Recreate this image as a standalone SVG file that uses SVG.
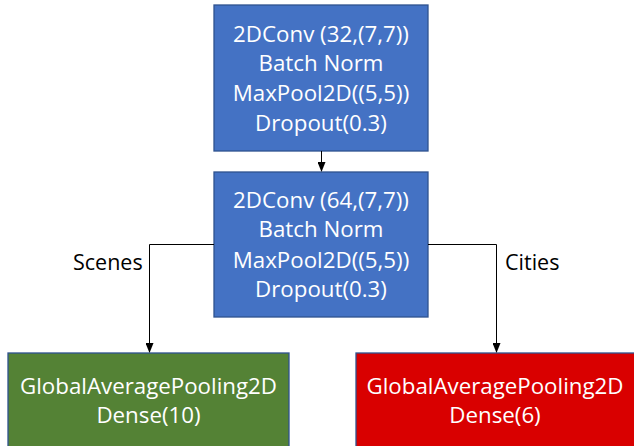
<svg xmlns="http://www.w3.org/2000/svg" width="634" height="446" viewBox="0 0 634 446">
<style>
.box{stroke:#2F528F;stroke-width:1.3}
.t{font-family:"Open Sans","Liberation Sans",sans-serif;font-size:22.3px;fill:#fff;text-anchor:middle}
.l{font-family:"Open Sans","Liberation Sans",sans-serif;font-size:21.5px;fill:#000}
.c{fill:none;stroke:#000;stroke-width:1}
</style>
<defs>
<marker id="a" markerWidth="10" markerHeight="8" refX="9" refY="4" orient="auto" markerUnits="userSpaceOnUse">
<path d="M0,0 L10,4 L0,8 z" fill="#000"/>
</marker>
</defs>
<rect width="634" height="446" fill="#fff"/>
<g id="conv1">
<rect class="box" x="214" y="5" width="214" height="146" fill="#4472C4"/>
<text class="t" x="321" y="42">2DConv (32,(7,7))</text>
<text class="t" x="321" y="71">Batch Norm</text>
<text class="t" x="321" y="101">MaxPool2D((5,5))</text>
<text class="t" x="321" y="131">Dropout(0.3)</text>
</g>
<g id="conv2">
<rect class="box" x="214" y="172" width="214" height="145" fill="#4472C4"/>
<text class="t" x="321" y="208">2DConv (64,(7,7))</text>
<text class="t" x="321" y="237">Batch Norm</text>
<text class="t" x="321" y="268">MaxPool2D((5,5))</text>
<text class="t" x="321" y="297">Dropout(0.3)</text>
</g>
<g id="scenes">
<rect class="box" x="8" y="353" width="281" height="100" fill="#548235"/>
<text class="t" x="148.5" y="394">GlobalAveragePooling2D</text>
<text class="t" x="148.5" y="423">Dense(10)</text>
</g>
<g id="cities">
<rect class="box" x="356" y="353" width="284" height="100" fill="#D90000"/>
<text class="t" x="495" y="394">GlobalAveragePooling2D</text>
<text class="t" x="495" y="423">Dense(6)</text>
</g>
<g id="connectors">
<path class="c" d="M321.5,151 V171" marker-end="url(#a)"/>
<path class="c" d="M214,244.5 H149.5 V352" marker-end="url(#a)"/>
<path class="c" d="M428,244.5 H496.5 V352" marker-end="url(#a)"/>
<text class="l" x="73" y="270">Scenes</text>
<text class="l" x="505" y="270">Cities</text>
</g>
</svg>
